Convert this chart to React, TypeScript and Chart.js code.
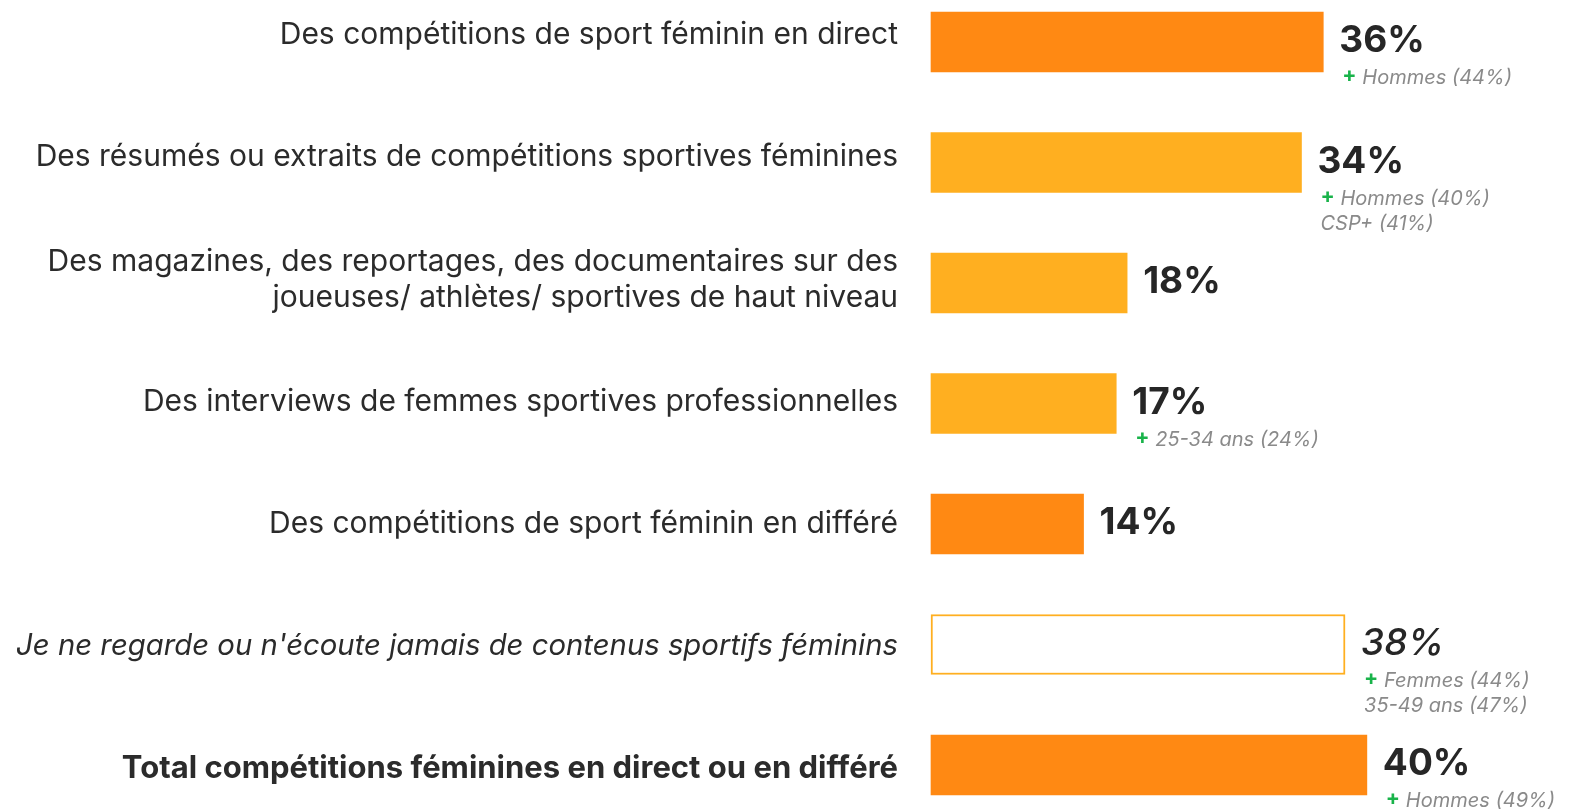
import React, { useEffect, useRef } from "react";
import { Chart, registerables } from "chart.js";

Chart.register(...registerables);

const categories: (string | string[])[] = [
  "Des compétitions de sport féminin en direct",
  "Des résumés ou extraits de compétitions sportives féminines",
  ["Des magazines, des reportages, des documentaires sur des", "joueuses/ athlètes/ sportives de haut niveau"],
  "Des interviews de femmes sportives professionnelles",
  "Des compétitions de sport féminin en différé",
  "Je ne regarde ou n'écoute jamais de contenus sportifs féminins",
  "Total compétitions féminines en direct ou en différé",
];
const values = [36, 34, 18, 17, 14, 38, 40];
const valueLabels = ["36%", "34%", "18%", "17%", "14%", "38%", "40%"];
const notes: string[][] = [
  ["Hommes (44%)"],
  ["Hommes (40%)", "CSP+ (41%)"],
  [],
  ["25-34 ans (24%)"],
  [],
  ["Femmes (44%)", "35-49 ans (47%)"],
  ["Hommes (49%)"],
];
const DARK = "#FF8913";
const LIGHT = "#FFAF20";
const barFill = [DARK, LIGHT, LIGHT, LIGHT, DARK, "#FFFFFF", DARK];
const barBorder = [DARK, LIGHT, LIGHT, LIGHT, DARK, LIGHT, DARK];
const barBorderW = [0, 0, 0, 0, 0, 2, 0];
const italicRow = 5;
const boldRow = 6;

const FAMILY = "Inter, 'Noto Sans', sans-serif";

const labelPlugin = {
  id: "valueLabels",
  afterDatasetsDraw(chart: any) {
    const ctx = chart.ctx;
    const meta = chart.getDatasetMeta(0);
    meta.data.forEach((el: any, i: number) => {
      const x = el.x + 16;
      const y = el.y;
      ctx.save();
      ctx.fillStyle = "#262626";
      ctx.textBaseline = "middle";
      ctx.textAlign = "left";
      ctx.font = `${i === italicRow ? "italic 500" : "bold"} 37px ${FAMILY}`;
      ctx.fillText(valueLabels[i], x, y - 1);
      const lines = notes[i];
      lines.forEach((t, j) => {
        const ly = y + 36 + j * 25;
        const lx = x + 3;
        if (j === 0) {
          ctx.font = `bold 21px ${FAMILY}`;
          ctx.fillStyle = "#19B34A";
          ctx.fillText("+", lx, ly - 2);
          ctx.font = `italic 20px ${FAMILY}`;
          ctx.fillStyle = "#8A8A8A";
          ctx.fillText(t, lx + 20, ly);
        } else {
          ctx.font = `italic 20px ${FAMILY}`;
          ctx.fillStyle = "#8A8A8A";
          ctx.fillText(t, lx, ly);
        }
      });
      ctx.restore();
    });
  },
};

export default function App() {
  const ref = useRef<HTMLCanvasElement>(null);
  useEffect(() => {
    if (!ref.current) return;
    const chart = new Chart(ref.current, {
      type: "bar",
      data: {
        labels: categories,
        datasets: [
          {
            data: values.map((v, i) => ({ x: v, y: i })),
            xAxisID: "x",
            yAxisID: "yb",
            backgroundColor: barFill,
            borderColor: barBorder,
            borderWidth: barBorderW,
            borderSkipped: false,
            barThickness: 60,
            clip: false,
          } as any,
        ],
      },
      options: {
        indexAxis: "y",
        animation: false,
        responsive: true,
        maintainAspectRatio: false,
        layout: { padding: { top: 35, bottom: 41, left: 0, right: 6 } },
        plugins: { legend: { display: false }, tooltip: { enabled: false } },
        scales: {
          x: { type: "linear", min: 0, max: 58, display: false },
          yb: {
            type: "linear",
            display: false,
            offset: false,
            reverse: true,
            min: -0.0581,
            max: 6.0332,
          },
          y: {
            type: "category",
            position: "left",
            offset: false,
            grid: { display: false, drawTicks: false },
            border: { display: false },
            ticks: {
              padding: 33,
              color: "#2B2B2B",
              font: (c: any) => ({
                family: FAMILY,
                size: c.index === italicRow ? 29.3 : c.index === boldRow ? 31 : 30,
                style: c.index === italicRow ? "italic" : "normal",
                weight: c.index === boldRow ? "bold" : "normal",
                lineHeight: 1.2,
              }),
            },
            afterFit: (s: any) => {
              s.width = 931;
              s.paddingTop = 0;
              s.paddingBottom = 0;
            },
          },
        },
      } as any,
      plugins: [labelPlugin],
    });
    return () => chart.destroy();
  }, []);
  return (
    <div style={{ position: "fixed", left: 0, top: 0, width: 1569, height: 810, background: "#fff" }}>
      <canvas ref={ref} />
    </div>
  );
}
